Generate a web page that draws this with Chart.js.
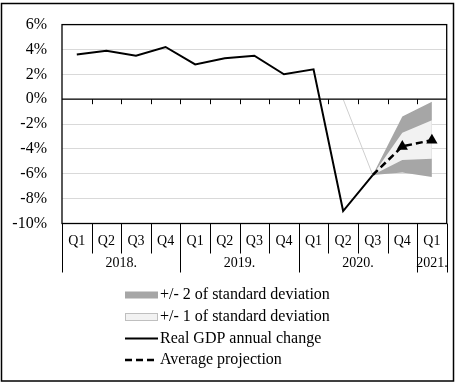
<!DOCTYPE html>
<html>
<head>
<meta charset="utf-8">
<script src="https://cdn.jsdelivr.net/npm/chart.js@4.4.1/dist/chart.umd.min.js"></script>
<style>
html,body{margin:0;padding:0;background:#fff;}
#wrap{width:462px;height:387px;}
</style>
</head>
<body>
<div id="wrap"><canvas id="c" width="462" height="387"></canvas></div>
<script>
const quarters = ['Q1','Q2','Q3','Q4','Q1','Q2','Q3','Q4','Q1','Q2','Q3','Q4','Q1'];
const years = ['2018.','2019.','2020.','2021.'];
const yearSpans = [4,4,4,1];
const yTicks = [6,4,2,0,-2,-4,-6,-8,-10];
const realGDP   = [3.6,3.9,3.5,4.2,2.8,3.3,3.5,2.0,2.4,-9.0,-6.1,null,null];
const projection= [null,null,null,null,null,null,null,null,null,null,-6.1,-3.8,-3.3];
const band2Upper= [null,null,null,null,null,null,null,null,null,null,-6.1,-1.4,-0.2];
const band2Lower= [null,null,null,null,null,null,null,null,null,null,-6.1,-5.9,-6.25];
const band1Upper= [null,null,null,null,null,null,null,null,null,null,-6.1,-2.7,-1.7];
const band1Lower= [null,null,null,null,null,null,null,null,null,null,-6.1,-4.9,-4.8];
const edgeLine  = [null,null,null,null,null,null,null,null,null,0,-6.1,null,null];
const legendLabels = ['+/- 2 of standard deviation','+/- 1 of standard deviation','Real GDP annual change','Average projection'];

const FONT = "'Liberation Serif','Times New Roman',serif";
Chart.defaults.font.family = FONT;
Chart.defaults.color = '#000';

const decor = {
  id:'decor',
  afterDraw(chart){
    const ctx = chart.ctx, a = chart.chartArea, xs = chart.scales.x, ys = chart.scales.y;
    const n = quarters.length, w = (a.right - a.left)/n;
    ctx.save();
    // zero line
    const y0 = ys.getPixelForValue(0);
    ctx.strokeStyle='#000'; ctx.lineWidth=1.3;
    ctx.beginPath(); ctx.moveTo(a.left,y0); ctx.lineTo(a.right,y0); ctx.stroke();
    // tick marks on zero line
    ctx.lineWidth=1;
    for(let i=1;i<n;i++){
      const x = Math.round(a.left + i*w)+0.5;
      ctx.beginPath(); ctx.moveTo(x,y0); ctx.lineTo(x,y0+5); ctx.stroke();
    }
    // frame
    ctx.lineWidth=1.3;
    ctx.strokeRect(a.left,a.top,a.right-a.left,a.bottom-a.top);
    // x labels
    const yearBounds = [0]; let acc=0; yearSpans.forEach(s=>{acc+=s;yearBounds.push(acc);});
    ctx.lineWidth=1;
    for(let i=0;i<=n;i++){
      const x = Math.round(a.left + i*w)+0.5;
      const isYear = yearBounds.includes(i);
      ctx.beginPath(); ctx.moveTo(x,a.bottom); ctx.lineTo(x,isYear? a.bottom+49 : a.bottom+30); ctx.stroke();
    }
    ctx.font = '14px '+FONT; ctx.fillStyle='#000'; ctx.textAlign='center'; ctx.textBaseline='middle';
    quarters.forEach((q,i)=>{ ctx.fillText(q, xs.getPixelForValue(i), a.bottom+18); });
    years.forEach((yl,j)=>{
      const cx = a.left + (yearBounds[j]+yearBounds[j+1])/2*w;
      ctx.fillText(yl, cx, a.bottom+40);
    });
    // legend
    const lx=125, tx=160, rows=[295,317,338.5,360];
    ctx.font='16px '+FONT; ctx.textAlign='left';
    legendLabels.forEach((t,i)=>{ ctx.fillText(t, tx, rows[i]); });
    ctx.fillStyle='#a6a6a6'; ctx.fillRect(lx,rows[0]-3.5,33,7);
    ctx.fillStyle='#f2f2f2'; ctx.fillRect(lx,rows[1]-3.5,33,7);
    ctx.strokeStyle='#bfbfbf'; ctx.lineWidth=1; ctx.strokeRect(lx+0.5,rows[1]-3.5,32,7);
    ctx.strokeStyle='#000'; ctx.lineWidth=2;
    ctx.beginPath(); ctx.moveTo(lx,rows[2]); ctx.lineTo(lx+33,rows[2]); ctx.stroke();
    ctx.lineWidth=2.5; ctx.setLineDash([7,4]);
    ctx.beginPath(); ctx.moveTo(lx,rows[3]); ctx.lineTo(lx+33,rows[3]); ctx.stroke();
    ctx.setLineDash([]);
    // outer border
    ctx.lineWidth=1.5; ctx.strokeStyle='#000';
    ctx.strokeRect(1.5,3.5,452,377.5);
    ctx.restore();
  }
};

const na = Array(quarters.length).fill(0);
new Chart(document.getElementById('c'),{
  type:'line',
  data:{
    labels: quarters.map((q,i)=>i),
    datasets:[
      {label:legendLabels[2], data:realGDP, borderColor:'#000', borderWidth:2, pointRadius:0, tension:0, fill:false, order:0},
      {label:legendLabels[3], data:projection, borderColor:'#000', borderWidth:2.5, borderDash:[7,4],
       pointStyle:'triangle', pointRadius:[0,0,0,0,0,0,0,0,0,0,0,6.5,6.5], pointBackgroundColor:'#000', pointBorderColor:'#000', pointBorderWidth:0, tension:0, fill:false, order:0},
      {label:'edge', data:edgeLine, borderColor:'#cfcfcf', borderWidth:1, pointRadius:0, tension:0, fill:false, order:1},
      {label:legendLabels[1], data:band1Upper, borderWidth:0, borderColor:'rgba(0,0,0,0)', backgroundColor:'#f2f2f2', pointRadius:0, tension:0, fill:'+1', order:2},
      {label:'b1l', data:band1Lower, borderWidth:0, borderColor:'rgba(0,0,0,0)', pointRadius:0, tension:0, fill:false, order:2},
      {label:legendLabels[0], data:band2Upper, borderWidth:0, borderColor:'rgba(0,0,0,0)', backgroundColor:'#a6a6a6', pointRadius:0, tension:0, fill:'+1', order:3},
      {label:'b2l', data:band2Lower, borderWidth:0, borderColor:'rgba(0,0,0,0)', pointRadius:0, tension:0, fill:false, order:3}
    ]
  },
  options:{
    responsive:false, animation:false, devicePixelRatio:1,
    layout:{padding:{top:24,bottom:163.5,right:15.3,left:0}},
    plugins:{legend:{display:false}, tooltip:{enabled:false}, title:{display:false}},
    scales:{
      x:{type:'category', display:false, offset:true},
      y:{min:-10,max:6,
         afterFit(s){ s.width=62; },
         afterBuildTicks(s){ s.ticks = yTicks.map(v=>({value:v})); },
         ticks:{padding:15, font:{size:16}, color:'#000', callback:v=>v+'%'},
         grid:{drawTicks:false, color:'#d9d9d9', lineWidth:1},
         border:{display:false}}
    }
  },
  plugins:[decor]
});
</script>
</body>
</html>
